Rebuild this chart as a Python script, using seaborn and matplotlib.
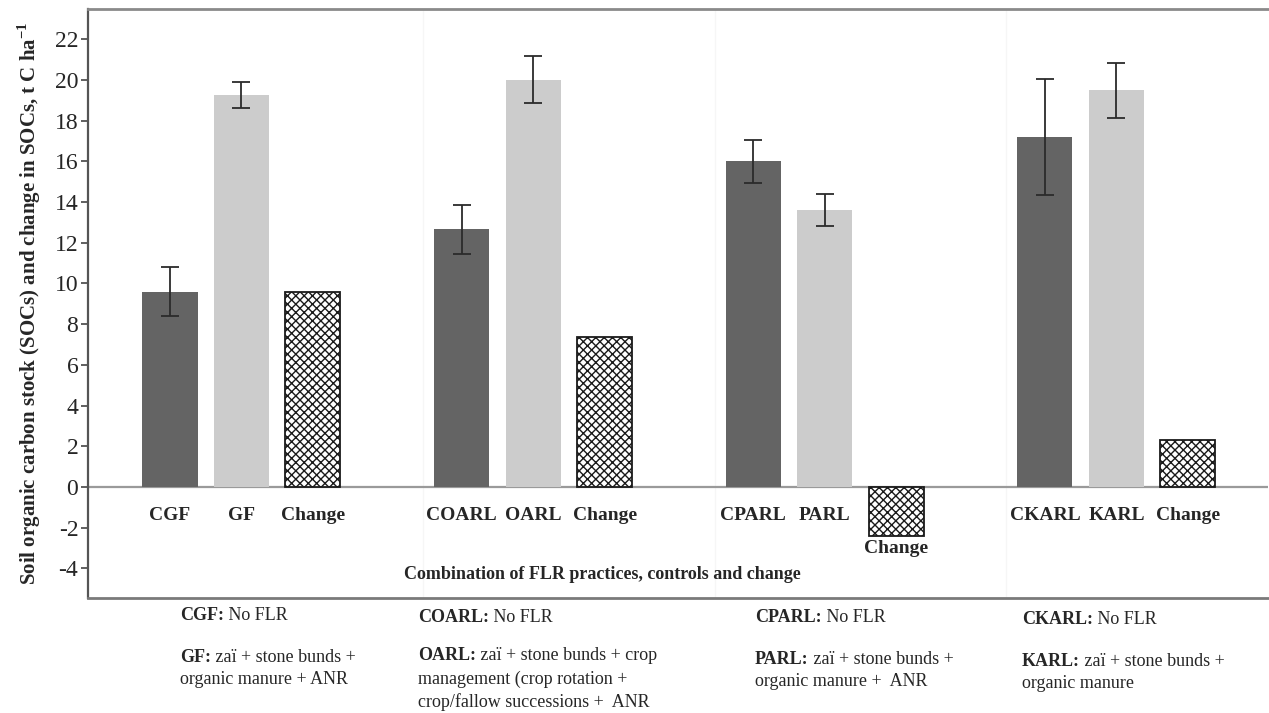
import matplotlib
matplotlib.use("Agg")
import matplotlib.pyplot as plt
import numpy as np
import pandas as pd
import seaborn as sns

# values (t C / ha)
controls = ["CGF", "COARL", "CPARL", "CKARL"]
practices = ["GF", "OARL", "PARL", "KARL"]
control_soc = [9.6, 12.65, 16.0, 17.2]
control_err = [1.2, 1.2, 1.07, 2.85]
flr_soc = [19.25, 20.0, 13.6, 19.5]
flr_err = [0.65, 1.15, 0.8, 1.35]
change_soc = [9.6, 7.35, -2.4, 2.3]

# notes under the chart: (bold, regular) for first lines, then continuation lines
note_controls = [("CGF:", " No FLR"), ("COARL:", " No FLR"), ("CPARL:", " No FLR"), ("CKARL:", " No FLR")]
note_practices = [
    ("GF:", " zaï + stone bunds +", ["organic manure + ANR"]),
    ("OARL:", " zaï + stone bunds + crop", ["management (crop rotation +", "crop/fallow successions +  ANR"]),
    ("PARL:", " zaï + stone bunds +", ["organic manure +  ANR"]),
    ("KARL:", " zaï + stone bunds +", ["organic manure"]),
]

group_step = 4.08
rows = []
for g in range(4):
    base = g * group_step
    rows.append((controls[g], "control", base, control_soc[g], control_err[g]))
    rows.append((practices[g], "flr", base + 1, flr_soc[g], flr_err[g]))
    rows.append(("Change", "change", base + 2, change_soc[g], np.nan))
df = pd.DataFrame(rows, columns=["label", "kind", "pos", "value", "err"])

sns.set_style("white")
plt.rcParams["font.family"] = ["Liberation Serif", "DejaVu Serif"]
plt.rcParams["hatch.linewidth"] = 1.0
plt.rcParams["axes.unicode_minus"] = False

fig = plt.figure(figsize=(12.69, 7.13), dpi=100)
ax = fig.add_axes([88 / 1269, 115 / 713, 1180 / 1269, 589 / 713])

# faint separators between groups
for g in range(1, 4):
    ax.axvline(g * group_step - 0.54, color="#f6f6f6", lw=1.0, zorder=0)
ax.axhline(0, color="#9a9a9a", lw=1.6, zorder=1)

sns.barplot(
    data=df, x="pos", y="value", hue="kind",
    palette={"control": "#646464", "flr": "#cccccc", "change": "white"},
    native_scale=True, width=0.77, legend=False, errorbar=None,
    saturation=1, linewidth=0, ax=ax, zorder=2,
)

change_pos = df.loc[df["kind"] == "change", "pos"].to_numpy()
for patch in ax.patches:
    cx = patch.get_x() + patch.get_width() / 2
    if np.any(np.isclose(cx, change_pos)):
        patch.set_facecolor("white")
        patch.set_edgecolor("#1a1a1a")
        patch.set_linewidth(1.3)
        patch.set_hatch("xxxx")

err_df = df.dropna(subset=["err"])
ax.errorbar(err_df["pos"], err_df["value"], yerr=err_df["err"], fmt="none",
            ecolor="#2b2b2b", elinewidth=1.3, capsize=6.5, capthick=1.3, zorder=3)

# category labels under each bar
for _, r in df.iterrows():
    y = -1.4 if r["value"] >= 0 else r["value"] - 0.6
    ax.text(r["pos"], y, r["label"], ha="center", va="center",
            fontsize=14, fontweight="bold")

ax.text(0.436, 0.04, "Combination of FLR practices, controls and change",
        transform=ax.transAxes, ha="center", va="center", fontsize=13, fontweight="bold")

ax.set_xlim(-1.147, 15.36)
ax.set_ylim(-5.45, 23.48)
ax.set_yticks(np.arange(-4, 23, 2))
ax.set_xticks([])
ax.set_xlabel("")
ax.set_ylabel("Soil organic carbon stock (SOCs) and change in SOCs, t C ha$^{\\mathregular{-1}}$",
              fontsize=15, fontweight="bold", labelpad=8)
ax.tick_params(axis="y", direction="out", length=5, width=1.2, color="#444444",
               labelsize=17, pad=2, left=True)

ax.spines["left"].set_color("#555555")
ax.spines["left"].set_linewidth(1.6)
ax.spines["top"].set_color("#8a8a8a")
ax.spines["top"].set_linewidth(2)
ax.spines["bottom"].set_color("#7a7a7a")
ax.spines["bottom"].set_linewidth(2)
ax.spines["right"].set_visible(False)

# notes under the axes
note_x = [180, 418, 755, 1022]
first_y = [616, 618, 617, 620]
second_y = [657, 656, 659, 661]
line_gap = 23


def bold_then_plain(x_px, y_px, bold, plain):
    t = fig.text(x_px / 1269, 1 - y_px / 713, bold, fontsize=13, fontweight="bold",
                 ha="left", va="center")
    fig.canvas.draw()
    bb = t.get_window_extent()
    fig.text(bb.x1 / 1269, 1 - y_px / 713, plain, fontsize=13, ha="left", va="center")


for g in range(4):
    b, p = note_controls[g]
    bold_then_plain(note_x[g], first_y[g], b, p)
    b, p, more = note_practices[g]
    bold_then_plain(note_x[g], second_y[g], b, p)
    for k, line in enumerate(more):
        fig.text(note_x[g] / 1269, 1 - (second_y[g] + line_gap * (k + 1)) / 713, line,
                 fontsize=13, ha="left", va="center")

fig.savefig("out.png", dpi=100)
